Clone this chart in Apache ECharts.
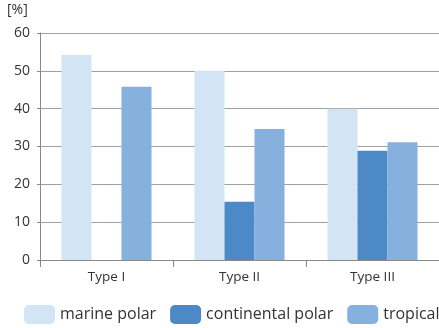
<!DOCTYPE html>
<html><head><meta charset="utf-8">
<script src="https://cdn.jsdelivr.net/npm/echarts@6/dist/echarts.min.js"></script>
<style>html,body{margin:0;padding:0;background:#fff}#c{width:439px;height:328px}</style>
</head><body><div id="c"></div>
<script>
const categories = ['Type I', 'Type II', 'Type III'];
const marinePolar = [54.2, 50.0, 40.0];
const continentalPolar = [0, 15.4, 28.9];
const tropical = [45.8, 34.6, 31.1];
const yTicks = [0, 10, 20, 30, 40, 50, 60];

const font = 'Open Sans';
const chart = echarts.init(document.getElementById('c'));
chart.setOption({
  animation: false,
  title: { text: '[%]', left: 7, top: 3, padding: 0, textStyle: { fontFamily: font, fontSize: 14, fontWeight: 'normal', color: '#333' } },
  grid: { left: 40, right: -1, top: 33, bottom: 68 },
  legend: {
    left: 24, top: 305, width: 600, padding: 0, itemWidth: 31, itemHeight: 19, itemGap: 14,
    textStyle: { fontFamily: font, fontSize: 16, color: '#333' },
    data: ['marine polar', 'continental polar', 'tropical']
  },
  xAxis: {
    type: 'category', data: categories,
    axisLine: { lineStyle: { color: '#888', width: 1 } },
    axisTick: { show: true, length: 7, lineStyle: { color: '#888' } },
    axisLabel: { fontFamily: font, fontSize: 13.5, color: '#333', margin: 10 }
  },
  yAxis: {
    type: 'value', min: yTicks[0], max: yTicks[yTicks.length - 1], interval: 10,
    axisLine: { show: true, lineStyle: { color: '#888' } },
    axisTick: { show: true, length: 3, lineStyle: { color: '#888' } },
    axisLabel: { fontFamily: font, fontSize: 14, color: '#333', margin: 10 },
    splitLine: { lineStyle: { color: '#a0a0a0' } }
  },
  series: [
    { name: 'marine polar', type: 'bar', data: marinePolar, barWidth: 30, barGap: '0%', itemStyle: { color: '#d3e4f4' } },
    { name: 'continental polar', type: 'bar', data: continentalPolar, barWidth: 30, barGap: '0%', itemStyle: { color: '#4d88c7' } },
    { name: 'tropical', type: 'bar', data: tropical, barWidth: 30, barGap: '0%', itemStyle: { color: '#86b0de' } }
  ]
});
</script></body></html>
